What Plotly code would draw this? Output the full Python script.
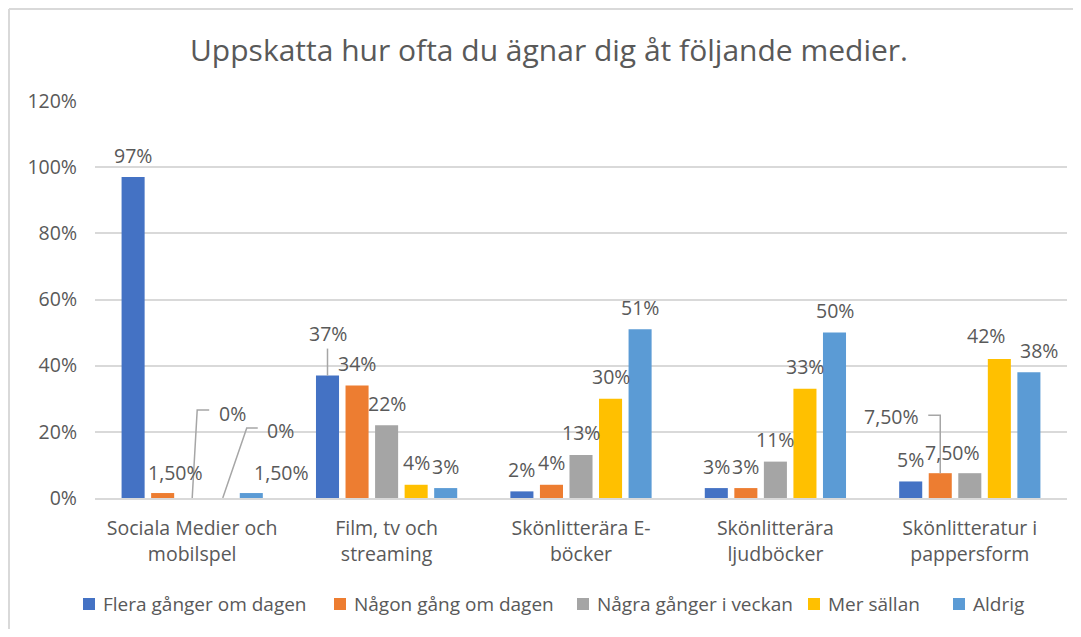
import plotly.graph_objects as go

categories = ["Sociala Medier och<br>mobilspel", "Film, tv och<br>streaming",
              "Skönlitterära E-<br>böcker", "Skönlitterära<br>ljudböcker",
              "Skönlitteratur i<br>pappersform"]
series_names = ["Flera gånger om dagen", "Någon gång om dagen", "Några gånger i veckan",
                "Mer sällan", "Aldrig"]
flera = [97, 37, 2, 3, 5]
nagon = [1.5, 34, 4, 3, 7.5]
nagra = [0, 22, 13, 11, 7.5]
mer = [0, 4, 30, 33, 42]
aldrig = [1.5, 3, 51, 50, 38]
labels_flera = ["97%", "37%", "2%", "3%", "5%"]
labels_nagon = ["1,50%", "34%", "4%", "3%", "7,50%"]
labels_nagra = ["0%", "22%", "13%", "11%", "7,50%"]
labels_mer = ["0%", "4%", "30%", "33%", "42%"]
labels_aldrig = ["1,50%", "3%", "51%", "50%", "38%"]
colors = ["#4472C4", "#ED7D31", "#A5A5A5", "#FFC000", "#5B9BD5"]
tick_vals = [0, 20, 40, 60, 80, 100, 120]
tick_text = ["0%", "20%", "40%", "60%", "80%", "100%", "120%"]

values = [flera, nagon, nagra, mer, aldrig]
labels = [labels_flera, labels_nagon, labels_nagra, labels_mer, labels_aldrig]

FONT = "Open Sans"
TXT = "#595959"
GRID = "#D9D9D9"
BARGAP = 0.24
GROUPGAP = 0.22
slot = (1 - BARGAP) / len(series_names)
xs = list(range(len(categories)))

W, H = 1065, 621
ML, MR, MT, MB = 87, 6, 93, 131
PW, PH = W - ML - MR, H - MT - MB

fig = go.Figure()
for name, vals, col in zip(series_names, values, colors):
    fig.add_trace(go.Bar(x=xs, y=vals, name=name, showlegend=False,
                         marker=dict(color=col, line=dict(width=0))))

# label tweaks: (series, category) -> offsets and optional leader line (px, relative to bar top)
special = {
    (2, 0): dict(xshift=25, yshift=85, xanchor="left",
                 path="M 0 0 L 5 88 L 17 88"),
    (3, 0): dict(xshift=43, yshift=68, xanchor="left",
                 path="M 1 0 L 25 70 L 36 70"),
    (1, 0): dict(xshift=13, yshift=21, xanchor="center", path=None),
    (4, 0): dict(xshift=30, yshift=21, xanchor="center", path=None),
    (0, 1): dict(xshift=0, yshift=42, xanchor="center",
                 path="M 0 0 L 0 27"),
    (1, 4): dict(xshift=-19, yshift=57, xanchor="right",
                 path="M 0 0 L 0 58 L -12 58"),
    (2, 4): dict(xshift=-17, yshift=21, xanchor="center", path=None),
    (3, 4): dict(xshift=-13, yshift=24, xanchor="center", path=None),
    (4, 4): dict(xshift=10, yshift=22, xanchor="center", path=None),
}

for j, (vals, labs) in enumerate(zip(values, labels)):
    for i, (v, lab) in enumerate(zip(vals, labs)):
        xc = i + (j - (len(series_names) - 1) / 2) * slot
        sp = special.get((j, i), dict(xshift=0, yshift=22, xanchor="center", path=None))
        fig.add_annotation(x=xc, y=v, text=lab, showarrow=False, xanchor=sp["xanchor"],
                           yanchor="middle", xshift=sp["xshift"], yshift=sp["yshift"],
                           font=dict(family=FONT, size=19.5, color=TXT))
        if sp["path"]:
            fig.add_shape(type="path", xref="x", yref="y", xsizemode="pixel", ysizemode="pixel",
                          xanchor=xc, yanchor=v, path=sp["path"],
                          line=dict(color="#A6A6A6", width=1.5))

# manual legend (marker left edges in figure px)
legend_x = [75, 326, 569, 800, 945]
legend_y = 596
for name, col, lx in zip(series_names, colors, legend_x):
    x0 = (lx - ML) / PW
    x1 = (lx + 12 - ML) / PW
    yc = (H - MB - legend_y) / PH
    fig.add_shape(type="rect", xref="paper", yref="paper", x0=x0, x1=x1,
                  y0=yc - 6 / PH, y1=yc + 6 / PH, fillcolor=col, line=dict(width=0))
    fig.add_annotation(xref="paper", yref="paper", x=(lx + 18 - ML) / PW, y=yc,
                       xanchor="left", yanchor="middle", showarrow=False, text=name,
                       font=dict(family=FONT, size=19, color=TXT))

# chart border (left and top edges visible)
bx = (1 - ML) / PW
by = 1 + (MT - 1) / PH
bbot = -(MB + 2) / PH
bright = 1 + (MR + 2) / PW
fig.add_shape(type="line", xref="paper", yref="paper", x0=bx, x1=bx, y0=bbot, y1=by,
              line=dict(color=GRID, width=2), layer="below")
fig.add_shape(type="line", xref="paper", yref="paper", x0=bx, x1=bright, y0=by, y1=by,
              line=dict(color=GRID, width=2), layer="below")

fig.update_layout(
    width=W, height=H,
    margin=dict(l=ML, r=MR, t=MT, b=MB),
    paper_bgcolor="white", plot_bgcolor="white",
    barmode="group", bargap=BARGAP, bargroupgap=GROUPGAP,
    title=dict(text="Uppskatta hur ofta du ägnar dig åt följande medier.",
               x=541 / W, xanchor="center", xref="container",
               y=1 - 42 / H, yanchor="middle",
               font=dict(family=FONT, size=30, color=TXT)),
    font=dict(family=FONT, color=TXT),
    xaxis=dict(range=[-0.5, 4.5], tickvals=xs, ticktext=categories, showgrid=False,
               showline=True, linecolor=GRID, linewidth=1.5, ticks="", zeroline=False,
               tickfont=dict(family=FONT, size=19.5, color=TXT), ticklabelstandoff=12),
    yaxis=dict(range=[0, 120], tickvals=tick_vals, ticktext=tick_text, showgrid=True,
               gridcolor=GRID, gridwidth=1.5, zeroline=False, showline=False, ticks="",
               tickfont=dict(family=FONT, size=19.5, color=TXT), ticklabelstandoff=17),
)

fig.write_html("out.html")
